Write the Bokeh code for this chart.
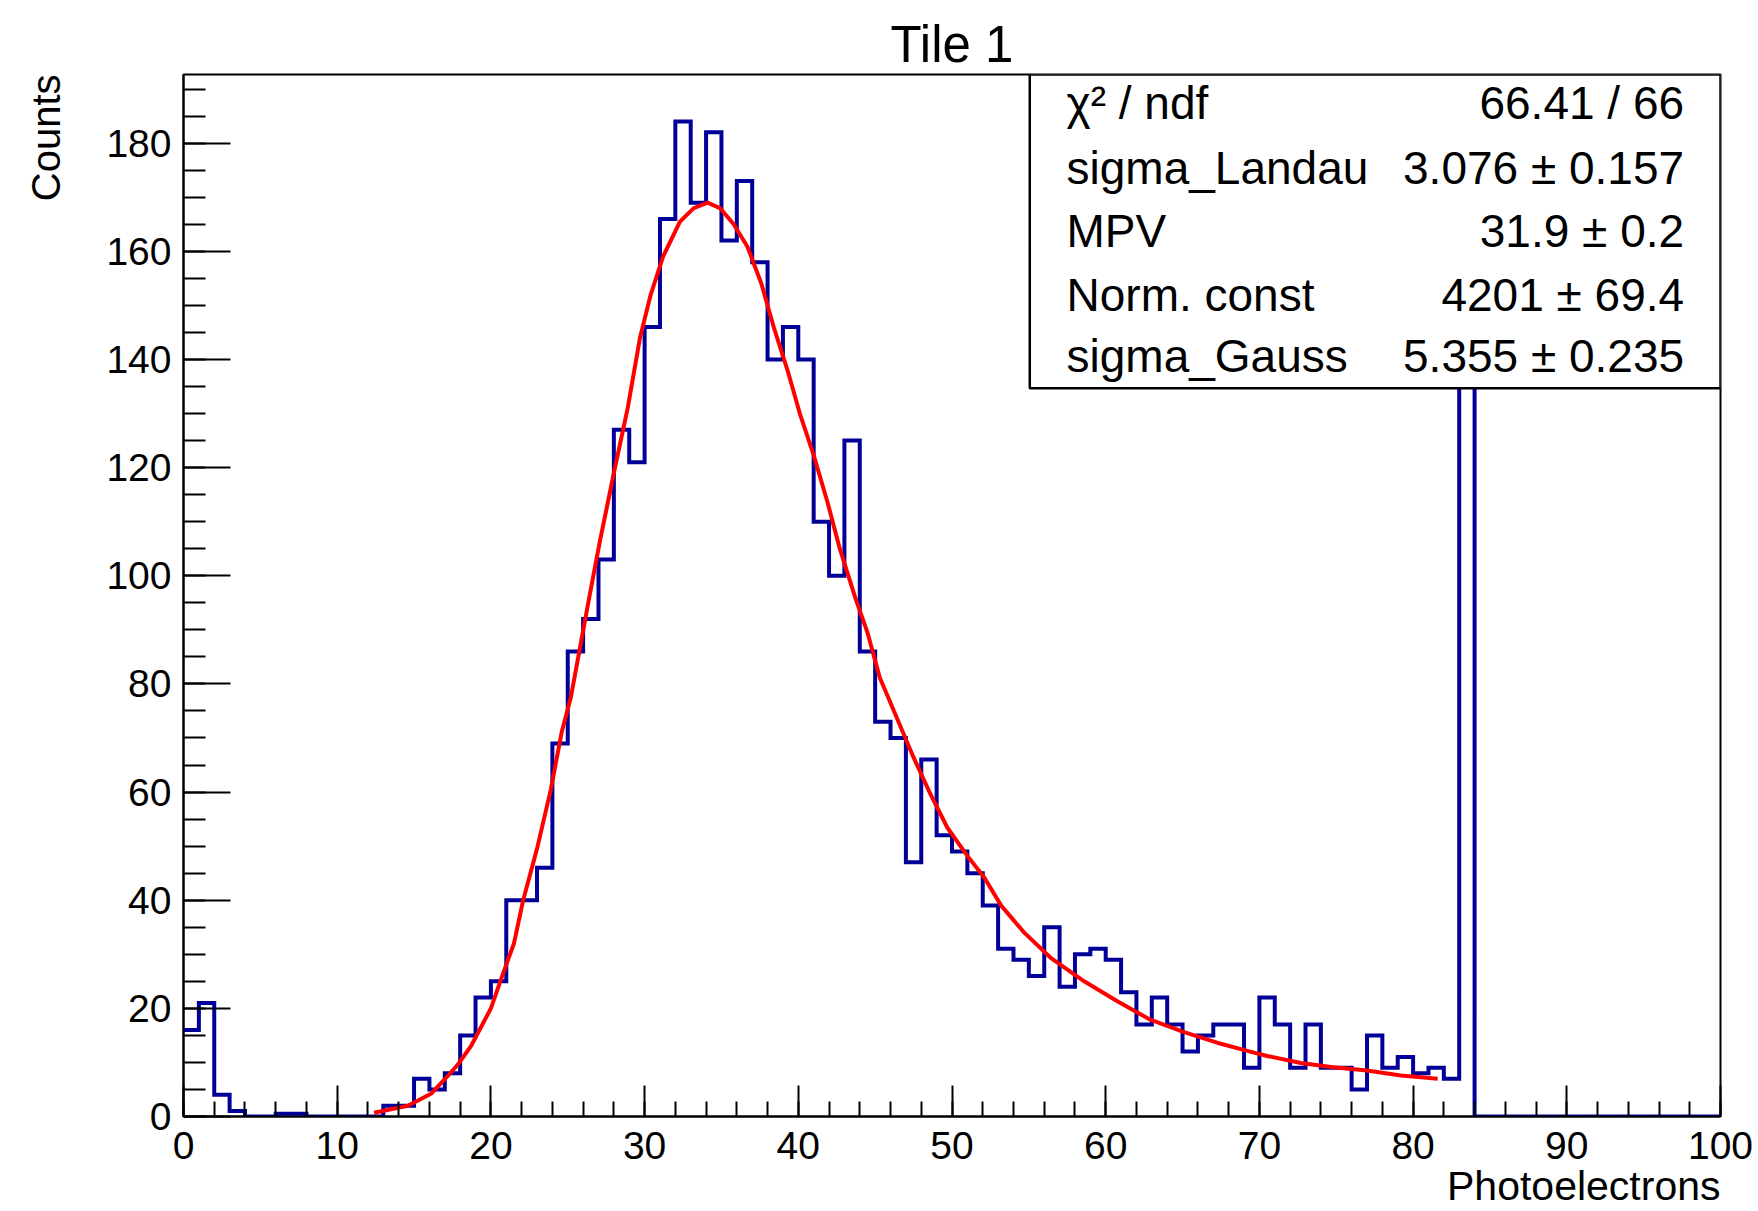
from bokeh.plotting import figure
from bokeh.models import Range1d, FixedTicker, Label, BoxAnnotation, Title
from bokeh.embed import file_html
from bokeh.resources import INLINE

# ---- data -------------------------------------------------------------
bin_edges = list(range(0, 101))
counts = [16, 21, 4, 1, 0, 0, 0.5, 0.5, 0, 0,
          0, 0, 0, 2, 2, 7, 5, 8, 15, 22,
          25, 40, 40, 46, 69, 86, 92, 103, 127, 121,
          146, 166, 184, 169, 182, 162, 173, 158, 140, 146,
          140, 110, 100, 125, 86, 73, 70, 47, 66, 52,
          49, 45, 39, 31, 29, 26, 35, 24, 30, 31,
          29, 23, 17, 22, 17, 12, 15, 17, 17, 9,
          22, 17, 9, 17, 9, 9, 5, 15, 9, 11,
          8, 9, 7, 250, 0, 0, 0, 0, 0, 0,
          0, 0, 0, 0, 0, 0, 0, 0, 0, 0]

fit_x = [12.4, 14.6, 16.1, 17.2, 17.9, 18.7, 20.0, 20.8, 21.5, 22.1,
         23.0, 23.9, 24.6, 25.2, 26.4, 27.1, 28.0, 28.9, 29.7, 30.4,
         31.2, 32.3, 33.2, 34.1, 34.9, 35.8, 36.7, 37.6, 38.4, 39.3,
         40.1, 41.0, 41.9, 42.7, 43.7, 44.5, 45.3, 46.4, 47.5, 48.6,
         49.7, 51.0, 52.1, 53.2, 54.7, 56.4, 58.6, 60.7, 62.9, 65.1,
         67.3, 69.4, 70.5, 72.7, 74.8, 77.0, 79.2, 81.6]
fit_y = [0.7, 2.0, 4.2, 7.5, 9.8, 13.0, 20.0, 26.5, 32.0, 40.0,
         49.5, 60.5, 71.0, 77.5, 96.0, 106.5, 119.0, 131.0, 144.0, 152.0,
         159.0, 165.5, 168.0, 169.0, 168.0, 165.0, 160.8, 154.0, 146.0, 138.0,
         130.0, 122.3, 113.6, 105.0, 96.0, 89.5, 81.2, 73.8, 66.4, 59.6,
         53.4, 48.2, 44.2, 39.0, 34.0, 29.4, 25.0, 21.4, 17.9, 15.6,
         13.6, 12.0, 11.2, 9.9, 9.1, 8.5, 7.6, 7.0]

x_ticks = list(range(0, 101, 10))
x_minor = list(range(0, 101, 2))
y_ticks = list(range(0, 181, 20))
y_minor = list(range(0, 191, 5))

title_text = "Tile 1"
x_title = "Photoelectrons"
y_title = "Counts"
stat_names = ["\u03c7\u00b2 / ndf", "sigma_Landau", "MPV", "Norm. const", "sigma_Gauss"]
stat_values = ["66.41 / 66", "3.076 \u00b1 0.157", "31.9 \u00b1 0.2",
               "4201 \u00b1 69.4", "5.355 \u00b1 0.235"]

FONT = "Liberation Sans"

# ---- figure -----------------------------------------------------------
p = figure(width=1758, height=1211,
           x_range=Range1d(0, 100), y_range=Range1d(0, 192.7),
           output_backend="svg", toolbar_location=None,
           min_border_left=183, min_border_right=38,
           min_border_top=74, min_border_bottom=94)
p.xgrid.visible = False
p.ygrid.visible = False
p.background_fill_color = "white"
p.border_fill_color = "white"
p.outline_line_color = "black"
p.outline_line_width = 2

p.title.text = title_text
p.title.align = "center"
p.title.text_font = FONT
p.title.text_font_size = "51px"
p.title.text_font_style = "normal"
p.title.text_color = "black"
p.title.vertical_align = "bottom"
p.title.standoff = 4

xa = p.xaxis[0]
xa.ticker = FixedTicker(ticks=x_ticks, minor_ticks=x_minor)
xa.major_tick_in = 31
xa.major_tick_out = 0
xa.minor_tick_in = 15
xa.minor_tick_out = 0
xa.major_label_text_font = FONT
xa.major_label_text_font_size = "39px"
xa.major_label_standoff = 15

ya = p.yaxis[0]
ya.ticker = FixedTicker(ticks=y_ticks, minor_ticks=y_minor)
ya.major_tick_in = 47
ya.major_tick_out = 0
ya.minor_tick_in = 22
ya.minor_tick_out = 0
ya.major_label_text_font = FONT
ya.major_label_text_font_size = "39px"
ya.major_label_standoff = 12

for ax in (xa, ya):
    ax.axis_line_width = 2
    ax.major_tick_line_width = 2
    ax.minor_tick_line_width = 2
    ax.axis_line_color = "black"
    ax.major_tick_line_color = "black"
    ax.minor_tick_line_color = "black"
    ax.major_label_text_color = "black"

p.add_layout(Title(text=x_title, align="right", vertical_align="top",
                   standoff=2, text_font=FONT, text_font_size="41px",
                   text_font_style="normal", text_color="black"), "below")
# spacer between the y axis and its title (blank)
p.add_layout(Title(text=" ", align="right", vertical_align="bottom",
                   standoff=23, text_font=FONT, text_font_size="10px",
                   text_font_style="normal", text_color="black"), "left")
p.add_layout(Title(text=y_title, align="right", vertical_align="bottom",
                   standoff=0, text_font=FONT, text_font_size="40px",
                   text_font_style="normal", text_color="black"), "left")

# histogram outline
step_y = counts + [counts[-1]]
p.step(bin_edges, step_y, mode="after", line_color="#000099", line_width=4,
       line_join="miter")

# fit curve
p.line(fit_x, fit_y, line_color="#ff0000", line_width=4)

# stats box
p.add_layout(BoxAnnotation(left=55.06, right=100, bottom=134.7, top=192.7,
                           fill_color="white", fill_alpha=1.0,
                           line_color="black", line_alpha=1.0, line_width=2.5))
row_y = [187.4, 175.5, 163.7, 152.0, 140.6]
for name, val, yy in zip(stat_names, stat_values, row_y):
    p.add_layout(Label(x=57.45, y=yy, text=name, text_font=FONT,
                       text_font_size="46px", text_align="left",
                       text_baseline="middle", text_color="black"))
    p.add_layout(Label(x=97.63, y=yy, text=val, text_font=FONT,
                       text_font_size="46px", text_align="right",
                       text_baseline="middle", text_color="black"))

open("out.html", "w").write(file_html(p, INLINE))
